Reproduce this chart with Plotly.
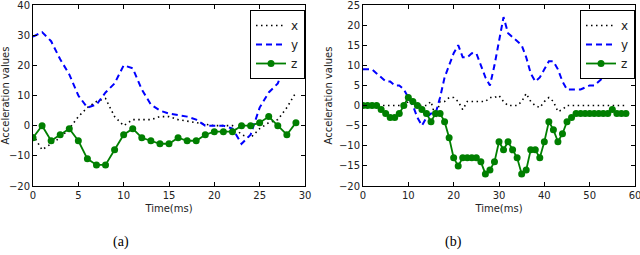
import plotly.graph_objects as go

# ---- data (a) ----
t_a = list(range(30))
x_a = [-3, -8, -6, -4, -1, 3, 6, 8, 9, 3, 0, 2, 2, 2, 3, 3, 2, 1.5, 1, 0.5,
       0, 0, 0, -3, -4, -1, 1, 2, 6, 11]
y_a = [29.5, 31, 28, 22, 17, 10, 6, 7, 11, 14, 20, 19, 12, 7, 5, 4, 3.5, 3, 2, 0,
       0, 0, -1, -6, -3, 6, 11, 14, 22, 32]
z_a = [-4, 0, -5, -3, -1, -5, -11, -13, -13, -8, -3, -1, -4, -5, -6, -6, -4, -5, -5, -3,
       -2, -2, -2, 0, 0, 1, 3, 0, -3, 1]
ticks_xa = [0, 5, 10, 15, 20, 25, 30]
ticks_ya = [-20, -10, 0, 10, 20, 30, 40]

# ---- data (b) ----
t_b = list(range(59))
x_b = [0, 0, 0, 0, 0, 0, 0, 0, 0, 0,
       1, 1, 0, 0, 0, 1, -3, 1, 1, 2,
       2, 1, -1, 1, 1, 1, 1, 1, 2, 2,
       2.5, 1, 0, 0, 0, 1, 3, 1, 0, -0.5,
       1, 2, 1, -1.5, -1, 0, 0, 0, 0, 0,
       0, 0, 0, 0, 0, 0, 0, 0, 0]
y_b = [9, 9, 9, 8, 7, 6, 6, 5, 5, 4,
       2, 0, -3, -5, -3, -2, -2, 2, 7, 10,
       13, 15, 12, 12, 13, 13, 10, 7, 5, 10,
       16, 22, 18, 17, 16, 15, 12, 8, 6, 7,
       9, 11, 11, 9, 6, 4, 4, 4, 4, 4.5,
       5, 5, 6, 7, 7.5, 8.5, 8, 7.5, 7]
z_b = [0, 0, 0, 0, -1, -2, -3, -3, -2, 0,
       2, 1, 0, -1, -2, -4, -2, -2, -4, -8,
       -13, -15, -13, -13, -13, -13, -14, -17, -16, -14,
       -9, -11, -9, -11, -13, -17, -16, -11, -11, -13,
       -9, -4, -6, -9, -7, -4, -3, -2, -2, -2,
       -2, -2, -2, -2, -2, -1, -2, -2, -2]
ticks_xb = [0, 10, 20, 30, 40, 50, 60]
ticks_yb = [-20, -15, -10, -5, 0, 5, 10, 15, 20, 25]

W, H = 640, 255
def px(x): return x / W
def py(y): return 1 - y / H

fig = go.Figure()

def add_series(t, xs, ys, zs, xa, ya, leg):
    fig.add_trace(go.Scatter(x=t, y=xs, name="x", mode="lines", xaxis=xa, yaxis=ya,
                             line=dict(color="black", width=1.6, dash="1.5px,3.5px"),
                             legend=leg))
    fig.add_trace(go.Scatter(x=t, y=ys, name="y", mode="lines", xaxis=xa, yaxis=ya,
                             line=dict(color="#0000ff", width=2, dash="6px,4px"),
                             legend=leg))
    fig.add_trace(go.Scatter(x=t, y=zs, name="z", mode="lines+markers", xaxis=xa, yaxis=ya,
                             line=dict(color="#007f00", width=1.8),
                             marker=dict(color="#007f00", size=7, symbol="circle"),
                             legend=leg))

add_series(t_a, x_a, y_a, z_a, "x", "y", "legend")
add_series(t_b, x_b, y_b, z_b, "x2", "y2", "legend2")

tfont = dict(family="DejaVu Sans", size=10, color="#222")
ax_common = dict(showline=True, linecolor="black", linewidth=1, mirror="ticks",
                 ticks="inside", ticklen=4, tickcolor="black", showgrid=False,
                 zeroline=False, automargin=False, tickmode="array",
                 ticklabeloverflow="allow",
                 tickfont=dict(family="DejaVu Sans", size=10, color="#222"))

leg_common = dict(xanchor="right", yanchor="top", bordercolor="black", borderwidth=1,
                  bgcolor="white", font=dict(family="DejaVu Sans", size=12, color="#222"),
                  itemwidth=30, tracegroupgap=0)

fig.update_layout(
    width=W, height=H, margin=dict(l=0, r=0, t=0, b=0, autoexpand=False),
    paper_bgcolor="white", plot_bgcolor="white", showlegend=True,
    xaxis=dict(domain=[px(33), px(305)], range=[0, 30], tickvals=ticks_xa, anchor="y",
               title=dict(text="Time(ms)", font=tfont, standoff=4), **ax_common),
    yaxis=dict(domain=[py(186), py(5)], range=[-20, 40], tickvals=ticks_ya, anchor="x",
               title=dict(text="Acceleration values", font=tfont, standoff=4), **ax_common),
    xaxis2=dict(domain=[px(363), px(635)], range=[0, 60], tickvals=ticks_xb, anchor="y2",
                title=dict(text="Time(ms)", font=tfont, standoff=4), **ax_common),
    yaxis2=dict(domain=[py(186), py(5)], range=[-20, 25], tickvals=ticks_yb, anchor="x2",
                title=dict(text="Acceleration values", font=tfont, standoff=4), **ax_common),
    legend=dict(x=px(305), y=py(10), **leg_common),
    legend2=dict(x=px(635), y=py(10), **leg_common),
    annotations=[
        dict(text="(a)", x=px(121), y=py(242), xref="paper", yref="paper", showarrow=False,
             xanchor="center", yanchor="middle",
             font=dict(family="Liberation Serif", size=14, color="black")),
        dict(text="(b)", x=px(453), y=py(242), xref="paper", yref="paper", showarrow=False,
             xanchor="center", yanchor="middle",
             font=dict(family="Liberation Serif", size=14, color="black")),
    ],
)

fig.write_html("out.html", config={"displayModeBar": False},
               post_script="document.body.style.margin='0';document.body.style.overflow='hidden';")
